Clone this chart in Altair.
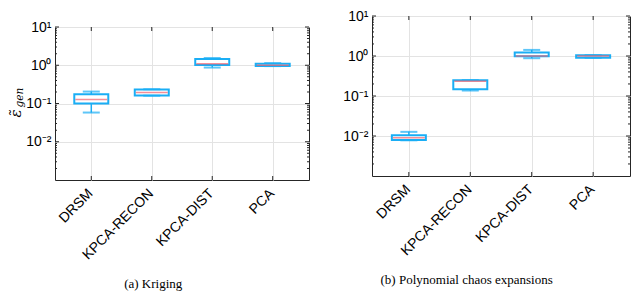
import altair as alt
import pandas as pd

methods = ["DRSM", "KPCA-RECON", "KPCA-DIST", "PCA"]

# Kriging (a)
krig_lo = [0.058, 0.160, 0.87, 0.95]
krig_q1 = [0.100, 0.163, 1.02, 0.96]
krig_med = [0.127, 0.194, 1.10, 1.00]
krig_q3 = [0.175, 0.233, 1.46, 1.10]
krig_hi = [0.205, 0.236, 1.55, 1.14]

# Polynomial chaos expansions (b)
pce_lo = [0.0078, 0.137, 0.88, 0.90]
pce_q1 = [0.0079, 0.148, 0.98, 0.91]
pce_med = [0.0091, 0.234, 1.00, 1.00]
pce_q3 = [0.0105, 0.248, 1.23, 1.04]
pce_hi = [0.0127, 0.250, 1.42, 1.05]

major_ticks = [10, 1, 0.1, 0.01]
minor_ticks = [m * 10.0 ** e for e in (-3, -2, -1, 0) for m in range(2, 10)]

BLUE = "#1AAEF5"
RED = "#F0606E"
FONT = "Liberation Sans"
SERIF = "Liberation Serif"
ITAL = "DejaVu Serif"

sup = ("datum.value >= 5 ? '10¹' : datum.value >= 0.5 ? '10⁰' : "
       "datum.value >= 0.05 ? '10⁻¹' : datum.value >= 0.005 ? '10⁻²' : ''")


def panel(lo, q1, med, q3, hi, w, h, caption, ylabel, cap_dx):
    df = pd.DataFrame({"method": methods, "lo": lo, "q1": q1, "med": med,
                       "q3": q3, "hi": hi})
    xs = alt.Scale(type="point", domain=methods, padding=0.6)
    ys = alt.Scale(type="log", domain=[0.001, 10], nice=False)
    x = alt.X("method:N", scale=xs, sort=methods,
              axis=alt.Axis(title=None, labelAngle=-45, labelAlign="right",
                            labelBaseline="top", labelFont=FONT, labelFontSize=14,
                            labelColor="#000", grid=True, gridColor="#e3e3e3",
                            tickSize=0, domain=False, labelPadding=6,
                            labelOffset=-6))
    base = alt.Chart(df)
    whisk = base.mark_rule(color=BLUE, strokeWidth=1.5).encode(
        x=x,
        y=alt.Y("lo:Q", scale=ys,
                axis=alt.Axis(values=major_ticks, labelExpr=sup, title=None,
                              labelFont=FONT, labelFontSize=14, labelColor="#000",
                              grid=True, gridColor="#e3e3e3", tickSize=0,
                              domain=False, labelPadding=4)),
        y2="hi:Q")
    box = base.mark_bar(size=34, fill="white", stroke=BLUE, strokeWidth=2).encode(
        x=x, y=alt.Y("q1:Q", scale=ys), y2="q3:Q")
    capl = base.mark_tick(color=BLUE, size=17, thickness=2).encode(
        x=x, y=alt.Y("lo:Q", scale=ys))
    caph = base.mark_tick(color=BLUE, size=17, thickness=2).encode(
        x=x, y=alt.Y("hi:Q", scale=ys))
    medm = base.mark_tick(color=RED, size=32, thickness=1.5).encode(
        x=x, y=alt.Y("med:Q", scale=ys))

    tdf = pd.DataFrame({"v": minor_ticks})
    mdf = pd.DataFrame({"v": major_ticks})
    minl = alt.Chart(tdf).mark_rule(color="#262626", strokeWidth=1).encode(
        y=alt.Y("v:Q", scale=ys), x=alt.value(0), x2=alt.value(2))
    minr = alt.Chart(tdf).mark_rule(color="#262626", strokeWidth=1).encode(
        y=alt.Y("v:Q", scale=ys), x=alt.value(w - 2), x2=alt.value(w))
    majl = alt.Chart(mdf).mark_rule(color="#262626", strokeWidth=1).encode(
        y=alt.Y("v:Q", scale=ys), x=alt.value(0), x2=alt.value(4))
    majr = alt.Chart(mdf).mark_rule(color="#262626", strokeWidth=1).encode(
        y=alt.Y("v:Q", scale=ys), x=alt.value(w - 4), x2=alt.value(w))
    cdf = pd.DataFrame({"method": methods})
    xtb = alt.Chart(cdf).mark_rule(color="#262626").encode(
        x=alt.X("method:N", scale=xs, sort=methods), y=alt.value(h - 4), y2=alt.value(h))
    xtt = alt.Chart(cdf).mark_rule(color="#262626").encode(
        x=alt.X("method:N", scale=xs, sort=methods), y=alt.value(0), y2=alt.value(4))

    layers = [whisk, box, capl, caph, medm, minl, minr, majl, majr, xtb, xtt]
    if ylabel:
        lab = pd.DataFrame({"t": ["ε̃"]})
        eps = alt.Chart(lab).mark_text(angle=270, font=ITAL, fontStyle="italic",
                                       fontSize=15, align="left",
                                       baseline="alphabetic").encode(
            text="t:N", x=alt.value(-34), y=alt.value(h / 2 + 14))
        lab2 = pd.DataFrame({"t": ["gen"]})
        gen = alt.Chart(lab2).mark_text(angle=270, font=ITAL, fontStyle="italic",
                                        fontSize=10.5, align="left",
                                        baseline="alphabetic").encode(
            text="t:N", x=alt.value(-32), y=alt.value(h / 2 + 4))
        layers += [eps, gen]
    return alt.layer(*layers).properties(
        width=w, height=h,
        title=alt.TitleParams(caption, orient="bottom", font=SERIF, fontSize=13,
                              fontWeight="normal", color="#000", offset=16,
                              anchor="middle", frame="bounds", dx=cap_dx))


left = panel(krig_lo, krig_q1, krig_med, krig_q3, krig_hi, 254, 153,
             "(a) Kriging", True, -6)
right = panel(pce_lo, pce_q1, pce_med, pce_q3, pce_hi, 258, 160,
              "(b) Polynomial chaos expansions", False, -20)

spacer = alt.Chart(pd.DataFrame({"a": [0]})).mark_point(opacity=0).encode(
    x=alt.value(0), y=alt.value(0)).properties(
    width=254, height=1, view=alt.ViewBackground(stroke=None))

left_col = alt.vconcat(spacer, left, spacing=0)

chart = alt.hconcat(left_col, right, spacing=32).properties(padding=0).configure_view(
    stroke="#262626", strokeWidth=1)

chart.save("out.html", embed_options={"renderer": "svg", "actions": False})
